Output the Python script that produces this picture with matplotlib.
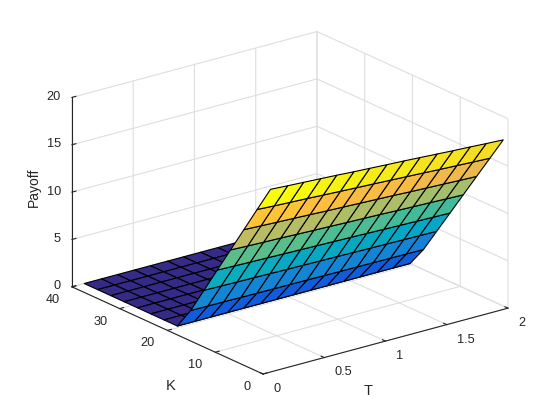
import numpy as np
import matplotlib
matplotlib.use("Agg")
import matplotlib.pyplot as plt
from matplotlib.colors import ListedColormap, Normalize
from matplotlib.text import Text
from mpl_toolkits.mplot3d import Axes3D, proj3d

plt.rcParams['font.family'] = ['Liberation Sans', 'DejaVu Sans']

T_values = [0.10, 0.24, 0.37, 0.51, 0.64, 0.78, 0.91, 1.05, 1.19, 1.32, 1.46, 1.59, 1.73, 1.86, 2.00]
K_values = [1.00, 3.79, 6.57, 9.36, 12.14, 14.93, 17.71, 20.50, 23.29, 26.07, 28.86, 31.64, 34.43, 37.21, 40.00]

payoff_k01 = [18.92, 18.81, 18.72, 18.62, 18.53, 18.41, 18.32, 18.22, 18.13, 18.03, 17.92, 17.82, 17.73, 17.63, 17.54]
payoff_k02 = [16.15, 16.05, 15.97, 15.89, 15.80, 15.71, 15.63, 15.55, 15.46, 15.38, 15.29, 15.20, 15.12, 15.04, 14.96]
payoff_k03 = [13.38, 13.30, 13.23, 13.16, 13.09, 13.01, 12.95, 12.88, 12.81, 12.75, 12.66, 12.60, 12.53, 12.46, 12.40]
payoff_k04 = [10.60, 10.53, 10.48, 10.43, 10.37, 10.31, 10.26, 10.20, 10.15, 10.10, 10.03, 9.98, 9.93, 9.87, 9.82]
payoff_k05 = [7.83, 7.78, 7.74, 7.70, 7.66, 7.62, 7.58, 7.54, 7.50, 7.46, 7.41, 7.37, 7.33, 7.29, 7.25]
payoff_k06 = [5.05, 5.02, 4.99, 4.97, 4.94, 4.91, 4.89, 4.86, 4.84, 4.81, 4.78, 4.76, 4.73, 4.71, 4.68]
payoff_k07 = [2.28, 2.27, 2.26, 2.24, 2.23, 2.22, 2.21, 2.20, 2.18, 2.17, 2.16, 2.15, 2.14, 2.13, 2.11]
payoff_flat = [0.0] * 15

T_ticks = [0, 0.5, 1, 1.5, 2]
K_ticks = [0, 10, 20, 30, 40]
Z_ticks = [0, 5, 10, 15, 20]

parula = ListedColormap([
    [0.2081,0.1663,0.5292],[0.2116,0.1898,0.5777],[0.2123,0.2138,0.6270],[0.2081,0.2386,0.6771],
    [0.1959,0.2645,0.7279],[0.1707,0.2919,0.7792],[0.1253,0.3242,0.8303],[0.0591,0.3598,0.8683],
    [0.0117,0.3875,0.8820],[0.0060,0.4086,0.8828],[0.0165,0.4266,0.8786],[0.0329,0.4430,0.8720],
    [0.0498,0.4586,0.8641],[0.0629,0.4737,0.8554],[0.0723,0.4887,0.8467],[0.0779,0.5040,0.8384],
    [0.0793,0.5200,0.8312],[0.0749,0.5375,0.8263],[0.0641,0.5570,0.8240],[0.0488,0.5772,0.8228],
    [0.0343,0.5966,0.8199],[0.0265,0.6137,0.8135],[0.0239,0.6287,0.8038],[0.0231,0.6418,0.7913],
    [0.0228,0.6535,0.7768],[0.0267,0.6642,0.7607],[0.0384,0.6743,0.7436],[0.0590,0.6838,0.7254],
    [0.0843,0.6928,0.7062],[0.1133,0.7015,0.6859],[0.1453,0.7098,0.6646],[0.1801,0.7177,0.6424],
    [0.2178,0.7250,0.6193],[0.2586,0.7317,0.5954],[0.3022,0.7376,0.5712],[0.3482,0.7424,0.5473],
    [0.3953,0.7459,0.5244],[0.4420,0.7481,0.5033],[0.4871,0.7491,0.4840],[0.5300,0.7491,0.4661],
    [0.5709,0.7485,0.4494],[0.6099,0.7473,0.4337],[0.6473,0.7456,0.4188],[0.6834,0.7435,0.4044],
    [0.7184,0.7411,0.3905],[0.7525,0.7384,0.3768],[0.7858,0.7356,0.3633],[0.8185,0.7327,0.3498],
    [0.8507,0.7299,0.3360],[0.8824,0.7274,0.3217],[0.9139,0.7258,0.3063],[0.9450,0.7261,0.2886],
    [0.9739,0.7314,0.2666],[0.9938,0.7455,0.2403],[0.9990,0.7653,0.2164],[0.9955,0.7861,0.1967],
    [0.9880,0.8066,0.1794],[0.9789,0.8271,0.1633],[0.9697,0.8481,0.1475],[0.9626,0.8705,0.1309],
    [0.9589,0.8949,0.1132],[0.9598,0.9218,0.0948],[0.9661,0.9514,0.0755],[0.9763,0.9831,0.0538],
])

Z = np.array([payoff_k01, payoff_k02, payoff_k03, payoff_k04, payoff_k05, payoff_k06, payoff_k07,
              payoff_flat, payoff_flat, payoff_flat, payoff_flat, payoff_flat, payoff_flat, payoff_flat, payoff_flat])
TT, KK = np.meshgrid(T_values, K_values)

DARK = (0.15, 0.15, 0.15)
GRID = (0.87, 0.87, 0.87)

fig = plt.figure(figsize=(5.6, 4.2), dpi=100, facecolor='white')
ax = fig.add_axes([0.05, 0.05, 0.9, 0.9 * 56 / 42], projection='3d', proj_type='ortho')
ax.view_init(elev=20.5, azim=-127.5)
ax.set_box_aspect((310, 315, 203))
ax.set_xlim(0, 2); ax.set_ylim(0, 40); ax.set_zlim(0, 20)

facecolors = parula(Normalize(0, Z.max())(Z))
ax.plot_surface(TT, KK, Z, facecolors=facecolors, rstride=1, cstride=1, shade=False,
                edgecolor='black', linewidth=0.8, antialiased=True)

ax.set_xticks(T_ticks); ax.set_xticklabels(['0', '0.5', '1', '1.5', '2'], ha='left', va='center')
ax.set_yticks(K_ticks); ax.set_yticklabels(['0', '10', '20', '30', '40'], ha='right', va='center')
ax.set_zticks(Z_ticks); ax.set_zticklabels(['0', '5', '10', '15', '20'], ha='right', va='center')

for axis in (ax.xaxis, ax.yaxis, ax.zaxis):
    axis.set_pane_color((1, 1, 1, 0))
    axis.pane.set_edgecolor((0.82, 0.82, 0.82))
    axis.pane.set_linewidth(0.8)
    axis.line.set_color(DARK)
    axis.line.set_linewidth(0.8)
    axis._axinfo['grid'].update(color=GRID, linewidth=0.8)
    axis._axinfo['tick'].update(inward_factor=0.0, outward_factor=0.2, color=DARK)
    axis._axinfo['tick']['linewidth'] = {True: 0.8, False: 0.8}
ax.tick_params(axis='x', labelsize=9.2, colors=DARK, pad=1.5)
ax.tick_params(axis='y', labelsize=9.2, colors=DARK, pad=1)
ax.tick_params(axis='z', labelsize=9.2, colors=DARK, pad=-3.5)

ax.set_xlabel('T', fontsize=10.5, color=DARK)
ax.set_ylabel('K', fontsize=10.5, color=DARK)
ax.zaxis.set_rotate_label(False)
ax.set_zlabel('Payoff', fontsize=10, color=DARK, rotation=90)

def pin_label(label, x_px, y_px):
    """Keep an axis label at a fixed pixel spot of the reference."""
    def place(_xy):
        Text.set_position(label, ax.transData.inverted().transform((x_px, 420 - y_px)))
    label.set_position = place

pin_label(ax.xaxis.label, 368, 391)
pin_label(ax.yaxis.label, 171, 386)
pin_label(ax.zaxis.label, 34, 187)

# place the projected box on its pixel location in the reference
TARGET_FRONT = np.array([263.0, 420 - 374.0])
TARGET_RIGHT = np.array([508.0, 420 - 307.0])

def corner(x, y, z):
    fig.canvas.draw()
    px, py, _ = proj3d.proj_transform(x, y, z, ax.get_proj())
    return ax.transData.transform((px, py))

front, right = corner(0, 0, 0), corner(2, 0, 0)
pos = ax.get_position(original=True)
side_px = pos.width * 560
scale = (TARGET_RIGHT[0] - TARGET_FRONT[0]) / (right[0] - front[0])
new_side = side_px * scale
cx, cy = (pos.x0 + pos.width / 2) * 560, (pos.y0 + pos.height / 2) * 420
offset_front = front - np.array([cx, cy])
new_c = TARGET_FRONT - offset_front * scale
ax.set_position([(new_c[0] - new_side / 2) / 560, (new_c[1] - new_side / 2) / 420, new_side / 560, new_side / 420])

fig.savefig('out.png', dpi=100, facecolor='white')
